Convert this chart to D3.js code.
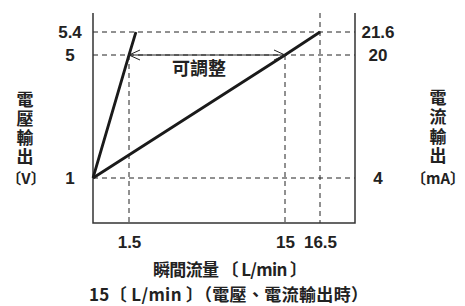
<html>
<script src='https://d3js.org/d3.v7.min.js'></script>
<style>
body {margin:0; background:#fff;}
text {font-family: "Liberation Sans", Arial, "Noto Sans CJK TC", sans-serif; font-weight: bold; fill: #222;}
.cjk {font-family: "Noto Sans CJK TC", sans-serif; font-weight: bold;}
.vert {writing-mode: vertical-rl; text-orientation: upright;}
</style>
<body onload='init()'>
<svg width=465 height=306></svg>
<script>
// flow ticks (L/min), voltage ticks (V), current ticks (mA)
var flowTicks = [1.5, 15, 16.5];
var voltTicks = [1, 5, 5.4];
var currTicks = [4, 20, 21.6];
// fast (1.5 L/min span) and slow (15 L/min span) output lines, [flow, volt]
var fastLine = [[0, 1], [1.5, 5], [2.1, 5.4]];
var slowLine = [[0, 1], [15, 5], [16.5, 5.4]];
var leftTitle = ["電", "壓", "輸", "出"];
var rightTitle = ["電", "流", "輸", "出"];

function init() {
var left = 93, right = 355, top = 13, bottom = 223;
// schematic chart: tick positions are not proportional, so piecewise scales
var x = d3.scaleLinear().domain([0, 1.5, 15, 16.5]).range([93, 129, 285, 320]);
var yV = d3.scaleLinear().domain(voltTicks).range([178, 55, 32]);
var yA = d3.scaleLinear().domain(currTicks).range([178, 55, 32]);

var svg = d3.select('svg');

// horizontal dashed guides
svg.append('g').selectAll('line').data(voltTicks).enter().append('line')
  .attr('x1', left).attr('x2', right)
  .attr('y1', function(d) {return yV(d);}).attr('y2', function(d) {return yV(d);})
  .attr('stroke', '#222').attr('stroke-width', 1).attr('stroke-dasharray', '5,4');

// vertical dashed guides
svg.append('g').selectAll('line').data(flowTicks).enter().append('line')
  .attr('x1', function(d) {return x(d);}).attr('x2', function(d) {return x(d);})
  .attr('y1', function(d) {return d == 16.5 ? top : yV(5);}).attr('y2', bottom)
  .attr('stroke', '#222').attr('stroke-width', 1).attr('stroke-dasharray', '5,4');

// frame
svg.append('path')
  .attr('d', 'M' + left + ',' + top + 'V' + bottom + 'H' + right + 'V' + top)
  .attr('fill', 'none').attr('stroke', '#333').attr('stroke-width', 1.5);

// output lines
var line = d3.line().x(function(d) {return x(d[0]);}).y(function(d) {return yV(d[1]);});
svg.selectAll('.out').data([fastLine, slowLine]).enter().append('path')
  .attr('d', line).attr('fill', 'none').attr('stroke', '#1a1a1a').attr('stroke-width', 2.8);

// adjustable range arrow
var ay = yV(5), ax1 = x(1.5), ax2 = x(15);
svg.append('line').attr('x1', ax1).attr('x2', ax2).attr('y1', ay).attr('y2', ay)
  .attr('stroke', '#222').attr('stroke-width', 1);
svg.append('path')
  .attr('d', 'M' + (ax1 + 11) + ',' + (ay - 5) + 'L' + ax1 + ',' + ay + 'L' + (ax1 + 11) + ',' + (ay + 5) +
             'M' + (ax2 - 11) + ',' + (ay - 5) + 'L' + ax2 + ',' + ay + 'L' + (ax2 - 11) + ',' + (ay + 5))
  .attr('fill', 'none').attr('stroke', '#222').attr('stroke-width', 1);
svg.append('text').attr('class', 'cjk').attr('x', 199).attr('y', 69).attr('dy', '0.36em')
  .attr('text-anchor', 'middle').style('font-size', '18px').text('可調整');

// axes (labels only)
var gl = svg.append('g').attr('transform', 'translate(' + left + ',0)')
  .call(d3.axisLeft(yV).tickValues(voltTicks).tickSize(0).tickFormat(d3.format('')));
gl.selectAll('text').attr('x', -23).attr('text-anchor', 'middle');

var gr = svg.append('g').attr('transform', 'translate(' + right + ',0)')
  .call(d3.axisRight(yA).tickValues(currTicks).tickSize(0).tickFormat(d3.format('')));
gr.selectAll('text').attr('x', 23).attr('text-anchor', 'middle');

var gb = svg.append('g').attr('transform', 'translate(0,' + bottom + ')')
  .call(d3.axisBottom(x).tickValues(flowTicks).tickSize(0).tickFormat(d3.format('')));
gb.selectAll('text').attr('y', 19).attr('dy', '0.35em');

svg.selectAll('.domain').remove();
svg.selectAll('.tick text').style('font-size', '17px').style('font-family', '"Liberation Sans", Arial, sans-serif')
  .style('font-weight', 'bold').attr('fill', '#222');

// axis titles (vertical text)
svg.append('text').attr('class', 'cjk vert').attr('x', 25).attr('y', 91)
  .style('font-size', '17px').style('letter-spacing', '2px').text(leftTitle.join(''));
svg.append('text').attr('class', 'cjk').attr('x', 26).attr('y', 179).attr('dy', '0.36em')
  .attr('text-anchor', 'middle').style('font-size', '15px').text('〔V〕');

svg.append('text').attr('class', 'cjk vert').attr('x', 438).attr('y', 89)
  .style('font-size', '17px').style('letter-spacing', '2.5px').text(rightTitle.join(''));
svg.append('text').attr('class', 'cjk').attr('x', 438).attr('y', 179).attr('dy', '0.36em')
  .attr('text-anchor', 'middle').style('font-size', '15px').text('〔mA〕');

svg.append('text').attr('class', 'cjk').attr('x', 153).attr('y', 270).attr('dy', '0.36em')
  .attr('textLength', 154).attr('lengthAdjust', 'spacing')
  .style('font-size', '17px').text('瞬間流量 〔 L/min 〕');
svg.append('text').attr('class', 'cjk').attr('x', 89).attr('y', 295).attr('dy', '0.36em')
  .attr('textLength', 279).attr('lengthAdjust', 'spacing')
  .style('font-size', '17px').text('15〔 L/min 〕（電壓、電流輸出時）');
}
</script>
</body>
</html>
